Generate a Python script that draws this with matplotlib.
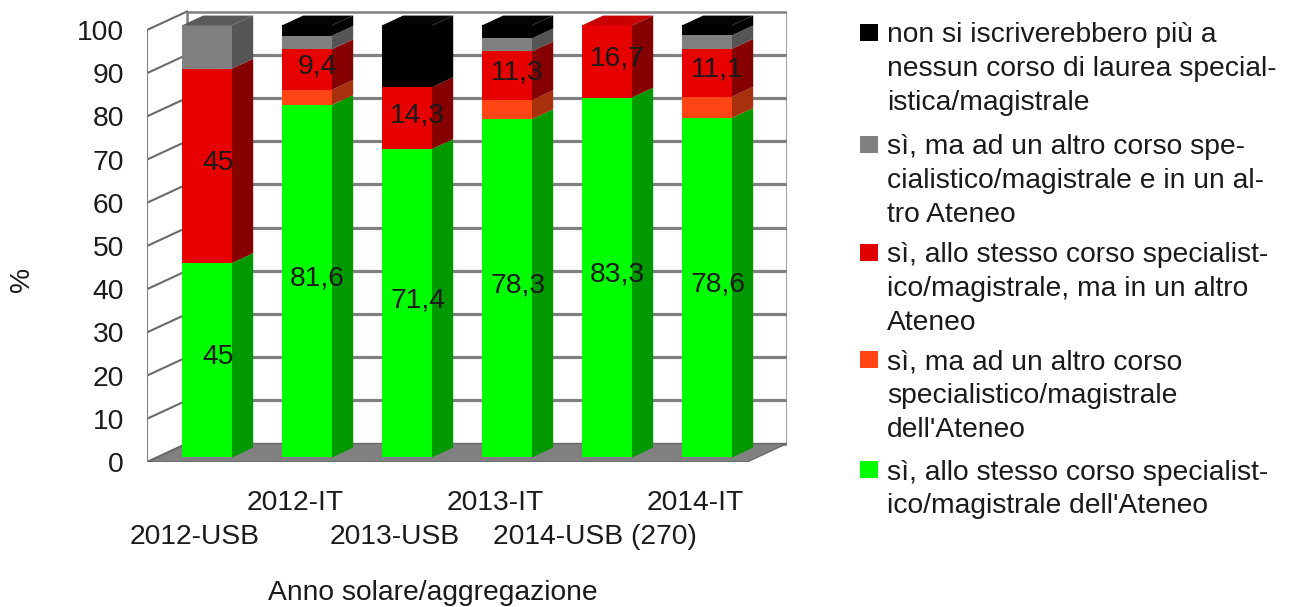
import matplotlib
matplotlib.use("Agg")
import matplotlib.pyplot as plt
from matplotlib.patches import Polygon, Rectangle
import matplotlib.transforms as mtransforms

plt.rcParams['font.family'] = ['Liberation Sans', 'DejaVu Sans']

# ---------------- data ----------------
categories = ["2012-USB", "2012-IT", "2013-USB", "2013-IT", "2014-USB (270)", "2014-IT"]
green = [45.0, 81.6, 71.4, 78.3, 83.3, 78.6]   # sì, allo stesso corso ... dell'Ateneo
orange = [0.0, 3.5, 0.0, 4.4, 0.0, 4.9]         # sì, ma ad un altro corso ... dell'Ateneo
red = [45.0, 9.4, 14.3, 11.3, 16.7, 11.1]       # sì, allo stesso corso ..., ma in un altro Ateneo
gray = [10.0, 3.1, 0.0, 3.0, 0.0, 3.1]          # sì, ma ad un altro corso ... e in un altro Ateneo
black = [0.0, 2.4, 14.3, 3.0, 0.0, 2.3]         # non si iscriverebbero più ...
yticks = list(range(0, 101, 10))

series = [
    ("sì, allo stesso corso specialist-\nico/magistrale dell'Ateneo", green, True),
    ("sì, ma ad un altro corso\nspecialistico/magistrale\ndell'Ateneo", orange, False),
    ("sì, allo stesso corso specialist-\nico/magistrale, ma in un altro\nAteneo", red, True),
    ("sì, ma ad un altro corso spe-\ncialistico/magistrale e in un al-\ntro Ateneo", gray, False),
    ("non si iscriverebbero più a\nnessun corso di laurea special-\nistica/magistrale", black, False),
]
front_cols = ['#00ff00', '#ff4514', '#e60000', '#808080', '#000000']
side_cols = ['#009a00', '#a8300c', '#860000', '#555555', '#000000']
top_cols = ['#00cc00', '#d23a10', '#c80000', '#5a5a5a', '#050505']
legend_cols = ['#00ff00', '#ff4514', '#e00000', '#808080', '#000000']

FS = 20.3
TXT = '#1a1a1a'

# ---------------- figure ----------------
W, H = 1295, 607
fig = plt.figure(figsize=(W / 100, H / 100), dpi=100)
PX_PER_UNIT = 4.32
ax = fig.add_axes([147 / W, (H - 462) / H, 640 / W, 452 / H])
ax.set_xlim(0, 6.4)
ax.set_ylim(0, 452 / PX_PER_UNIT)
ax.patch.set_visible(False)
for s in ax.spines.values():
    s.set_visible(False)

dX, dY = 0.40, 18.5 / PX_PER_UNIT    # full depth of the 3D box
s0, bd = 0.25, 0.53                   # bar front depth and bar depth fraction
half_w = 0.25

# back wall grid and border
for v in yticks[1:-1]:
    ax.plot([dX, 6 + dX], [v + dY, v + dY], color='#808080', lw=2.3, zorder=1,
            solid_capstyle='butt')
ax.add_patch(Rectangle((dX, dY), 6, 100, facecolor='none', edgecolor='#808080',
                       lw=1.8, zorder=1))
# floor
ax.add_patch(Polygon([(0, 0), (6, 0), (6 + dX, dY), (dX, dY)], closed=True,
                     facecolor='#808080', edgecolor='#6a6a6a', lw=1.0, zorder=2))
# left wall
for v in yticks:
    ax.plot([0, dX], [v, v + dY], color='#6a6a6a', lw=1.5, zorder=2)
ax.plot([0, 0], [0, 100], color='#808080', lw=1.5, zorder=2)

# bars
for i, cat in enumerate(categories):
    xl = i + 0.5 - half_w + s0 * dX
    xr = i + 0.5 + half_w + s0 * dX
    oy = s0 * dY
    bx, by = bd * dX, bd * dY
    base = 0.0
    last_k = max(k for k in range(len(series)) if series[k][1][i] > 0)
    for k, (lab, vals, show) in enumerate(series):
        v = vals[i]
        if v <= 0:
            continue
        v0, v1 = base, base + v
        ax.add_patch(Rectangle((xl, v0 + oy), xr - xl, v, facecolor=front_cols[k],
                               edgecolor='none', zorder=3))
        ax.add_patch(Polygon([(xr, v0 + oy), (xr + bx, v0 + oy + by),
                              (xr + bx, v1 + oy + by), (xr, v1 + oy)], closed=True,
                             facecolor=side_cols[k], edgecolor='none', zorder=3))
        if k == last_k:
            ax.add_patch(Polygon([(xl, v1 + oy), (xr, v1 + oy), (xr + bx, v1 + oy + by),
                                  (xl + bx, v1 + oy + by)], closed=True,
                                 facecolor=top_cols[k], edgecolor='none', zorder=3))
        if show:
            ax.text((xl + xr) / 2 + bx / 2, (v0 + v1) / 2 + oy + 0.7,
                    f"{v:g}".replace('.', ','), ha='center', va='center',
                    fontsize=FS, color=TXT, zorder=10)
        base = v1

# y axis ticks
ax.set_yticks(yticks)
ax.set_yticklabels([str(t) for t in yticks])
ax.tick_params(axis='y', length=0, pad=16.5, labelsize=FS, labelcolor=TXT)
ax.set_xticks([])

# staggered category labels
trans = mtransforms.blended_transform_factory(ax.transData, ax.transAxes)
for i, cat in enumerate(categories):
    py = 537 if i % 2 == 0 else 503
    ax.text(i + 0.48, (462 - py) / 452, cat, transform=trans, ha='center', va='center',
            fontsize=FS, color=TXT)

ax.set_xlabel("Anno solare/aggregazione", fontsize=FS, color=TXT)
ax.xaxis.set_label_coords((433 - 147) / 640, (462 - 593) / 452)
ax.xaxis.label.set_va('center')
ax.set_ylabel("%", fontsize=FS, color=TXT)
ax.yaxis.set_label_coords((22 - 147) / 640, (462 - 279) / 452)
ax.yaxis.label.set_va('center')

# legend (top to bottom: black, gray, red, orange, green)
baselines = [43, 155, 263, 370, 480]
LINE = 33.3
for j, k in enumerate(range(len(series) - 1, -1, -1)):
    lab = series[k][0]
    b = baselines[j]
    nlines = lab.count('\n') + 1
    fig.patches.append(Rectangle((860 / W, 1 - (b - 2) / H), 17.5 / W, 17.5 / H,
                                 transform=fig.transFigure, facecolor=legend_cols[k],
                                 edgecolor='none'))
    fig.text(887 / W, 1 - (b + (nlines - 1) * LINE) / H, lab, ha='left', va='baseline',
             fontsize=FS, color=TXT, linespacing=1.39)

fig.savefig("out.png", dpi=100)
